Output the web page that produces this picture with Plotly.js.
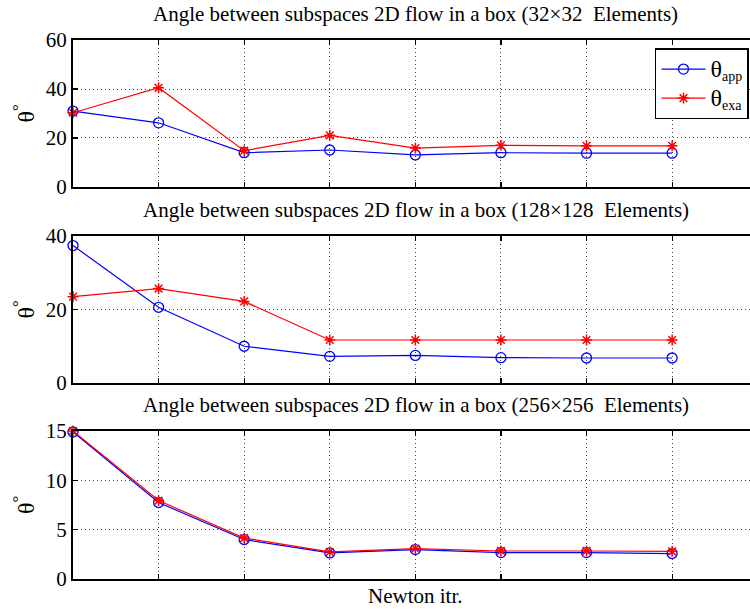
<!DOCTYPE html>
<html>
<head>
<meta charset="utf-8">
<script src="https://cdn.plot.ly/plotly-3.0.1.min.js"></script>
<style>html,body{margin:0;padding:0;background:#fff;}</style>
</head>
<body>
<div id="chart" style="width:750px;height:611px;"></div>
<script>
const iters = [1, 2, 3, 4, 5, 6, 7, 8];
const app32 = [31.0, 26.2, 14.0, 15.1, 13.1, 14.0, 13.8, 13.8];
const exa32 = [30.3, 40.5, 14.8, 21.1, 15.9, 17.0, 16.8, 16.8];
const app128 = [37.4, 20.6, 10.0, 7.25, 7.5, 6.9, 6.8, 6.8];
const exa128 = [23.5, 25.7, 22.2, 11.7, 11.7, 11.7, 11.7, 11.7];
const app256 = [14.9, 7.75, 4.0, 2.64, 2.98, 2.68, 2.68, 2.58];
const exa256 = [15.0, 7.95, 4.15, 2.74, 3.08, 2.84, 2.84, 2.80];
const titles = [
  "Angle between subspaces 2D flow in a box (32\u00d732  Elements)",
  "Angle between subspaces 2D flow in a box (128\u00d7128  Elements)",
  "Angle between subspaces 2D flow in a box (256\u00d7256  Elements)"
];
const yRanges = [[0, 60], [0, 40], [0, 15]];
const yTicks = [[0, 20, 40, 60], [0, 20, 40], [0, 5, 10, 15]];
const labelApp = "<span style='font-size:24px'>\u03b8</span><sub>app</sub>";
const labelExa = "<span style='font-size:24px'>\u03b8</span><sub>exa</sub>";
const xLabel = "Newton itr.";
const yLabel = "\u03b8<sup>\u00b0</sup>";

const FONT = "'Liberation Serif', 'Times New Roman', Times, serif";
const appData = [app32, app128, app256];
const exaData = [exa32, exa128, exa256];
const domains = [[0.7273, 1], [0.3636, 0.6364], [0, 0.2746]];

const traces = [];
for (let i = 0; i < 3; i++) {
  const xa = i === 0 ? 'x' : 'x' + (i + 1);
  const ya = i === 0 ? 'y' : 'y' + (i + 1);
  traces.push({
    x: iters, y: appData[i], xaxis: xa, yaxis: ya, type: 'scatter', mode: 'lines+markers',
    name: labelApp, showlegend: i === 0, cliponaxis: false,
    line: {color: '#0000ff', width: 1.2},
    marker: {symbol: 'circle-open', size: 10, color: '#0000ff', line: {width: 1.3, color: '#0000ff'}}
  });
  traces.push({
    x: iters, y: exaData[i], xaxis: xa, yaxis: ya, type: 'scatter', mode: 'lines+markers',
    name: labelExa, showlegend: i === 0, cliponaxis: false,
    line: {color: '#ff0000', width: 1.2},
    marker: {symbol: 'asterisk-open', size: 9, color: '#ff0000', line: {width: 1.5, color: '#ff0000'}}
  });
}

const layout = {
  width: 750, height: 611,
  margin: {l: 73, r: 0, t: 40, b: 32},
  paper_bgcolor: '#fff', plot_bgcolor: '#fff',
  font: {family: FONT, size: 20, color: '#000'},
  showlegend: true,
  legend: {
    x: 0.9985, y: 0.985, xanchor: 'right', yanchor: 'top',
    bordercolor: '#000', borderwidth: 1.5, bgcolor: '#fff',
    font: {family: FONT, size: 20, color: '#000'},
    tracegroupgap: 0, itemwidth: 44
  },
  annotations: []
};

for (let i = 0; i < 3; i++) {
  const sx = i === 0 ? '' : String(i + 1);
  layout['xaxis' + sx] = {
    domain: [0, 1], anchor: 'y' + sx, range: [1, 8.91],
    tickvals: iters, showticklabels: false,
    ticks: 'inside', ticklen: 5, tickwidth: 1.2, tickcolor: '#000',
    showline: true, linecolor: '#000', linewidth: 2, mirror: 'ticks',
    showgrid: true, gridcolor: '#444', griddash: '1px,3px', gridwidth: 1,
    zeroline: false, fixedrange: true
  };
  layout['yaxis' + sx] = {
    domain: domains[i], anchor: 'x' + sx, range: yRanges[i],
    tickvals: yTicks[i], ticktext: yTicks[i].map(String),
    ticks: 'inside', ticklen: 5, tickwidth: 1.2, tickcolor: '#000',
    showline: true, linecolor: '#000', linewidth: 2, mirror: false,
    showgrid: true, gridcolor: '#444', griddash: '1px,3px', gridwidth: 1,
    zeroline: false, fixedrange: true,
    tickfont: {family: FONT, size: 21, color: '#000'},
    title: {text: yLabel, font: {family: FONT, size: 24, color: '#000'}, standoff: 4}
  };
  layout.annotations.push({
    text: titles[i], xref: 'paper', yref: 'paper',
    x: 0.5066, y: domains[i][1], xanchor: 'center', yanchor: 'bottom', yshift: 12,
    showarrow: false, font: {family: FONT, size: 21, color: '#000'}
  });
}
layout.annotations.push({
  text: xLabel, xref: 'paper', yref: 'paper', x: 0.5066, y: 0, yanchor: 'top', yshift: -3,
  showarrow: false, font: {family: FONT, size: 21, color: '#000'}
});

Plotly.newPlot('chart', traces, layout, {staticPlot: true, displayModeBar: false});
</script>
</body>
</html>
